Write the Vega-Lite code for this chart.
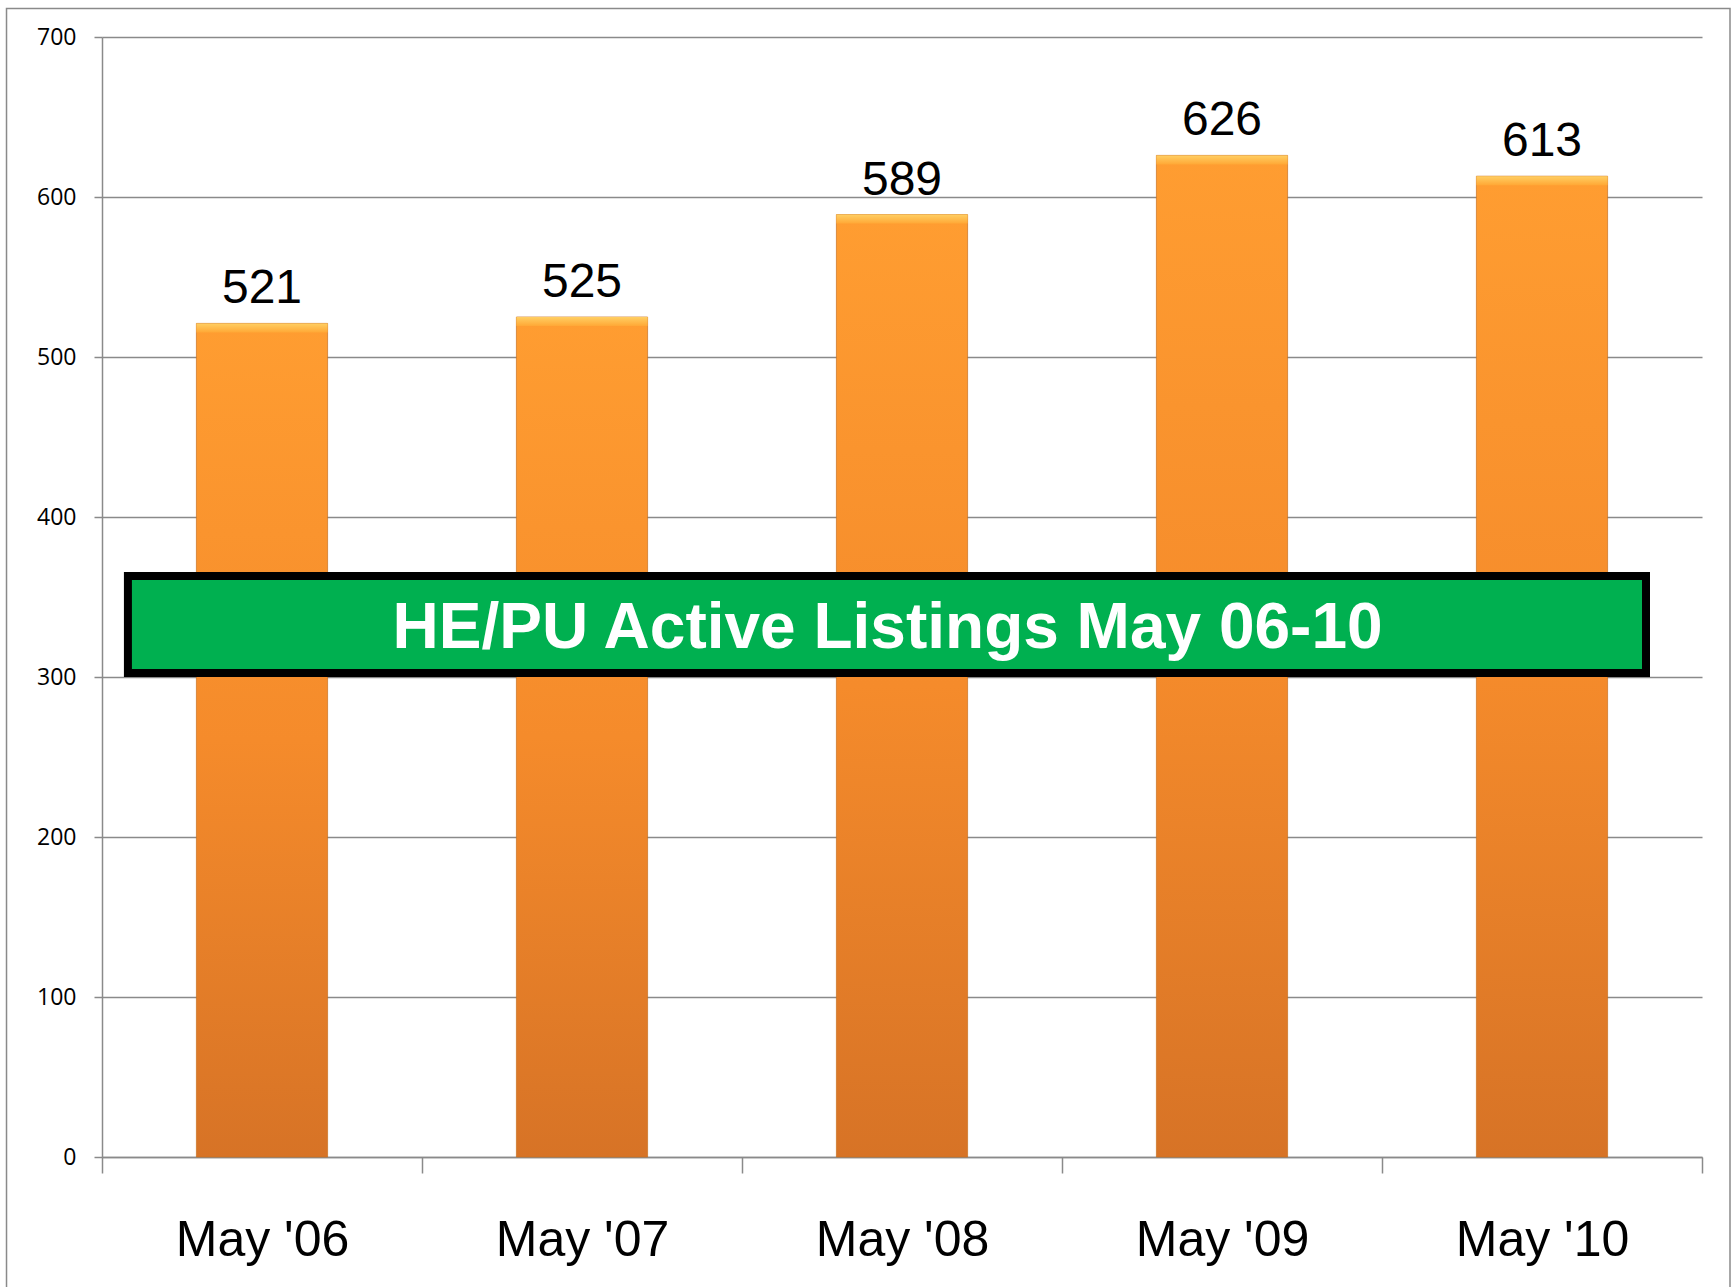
{
  "$schema": "https://vega.github.io/schema/vega-lite/v6.json",
  "width": 1600,
  "height": 1120,
  "autosize": {"type": "none"},
  "padding": {"left": 102, "top": 37, "right": 33, "bottom": 130},
  "background": "white",
  "config": {"view": {"stroke": null}},
  "data": {"values": [
    {"month": "May '06", "listings": 521},
    {"month": "May '07", "listings": 525},
    {"month": "May '08", "listings": 589},
    {"month": "May '09", "listings": 626},
    {"month": "May '10", "listings": 613}
  ]},
  "resolve": {"scale": {"x": "independent"}},
  "layer": [
    {
      "data": {"values": [{"item": "frame"}]},
      "mark": {"type": "rect", "fillOpacity": 0, "stroke": "#8a8a8a", "strokeWidth": 1.5},
      "encoding": {
        "x": {"datum": -0.2984, "type": "quantitative", "scale": {"domain": [0, 5], "nice": false, "zero": false}, "axis": null},
        "x2": {"datum": 5.0875},
        "y": {"datum": 717.8, "type": "quantitative"},
        "y2": {"datum": -100}
      }
    },
    {
      "layer": [
        {
          "mark": {
            "type": "bar",
            "width": {"band": 0.41},
            "stroke": "#c9701f",
            "strokeWidth": 1,
            "strokeOpacity": 0.7,
            "color": {
              "gradient": "linear", "x1": 0, "y1": 0, "x2": 0, "y2": 1,
              "stops": [
                {"offset": 0, "color": "#ff9d31"},
                {"offset": 0.5, "color": "#f58b2b"},
                {"offset": 1, "color": "#d77326"}
              ]
            }
          },
          "encoding": {
            "x": {
              "field": "month", "type": "nominal", "sort": null,
              "scale": {"paddingInner": 0, "paddingOuter": 0},
              "axis": {
                "title": null, "labelAngle": 0, "labelFont": "Liberation Sans", "labelFontSize": 50,
                "labelColor": "black", "tickSize": 16, "tickColor": "#8a8a8a", "tickWidth": 1.5,
                "domainColor": "#8a8a8a", "domainWidth": 1.5, "tickBand": "extent", "labelPadding": 42,
                "grid": false
              }
            },
            "y": {
              "field": "listings", "type": "quantitative",
              "scale": {"domain": [0, 700], "nice": false},
              "axis": {
                "title": null, "values": [0, 100, 200, 300, 400, 500, 600, 700],
                "labelFont": "Open Sans", "labelFontSize": 23, "labelColor": "black",
                "tickSize": 8, "labelPadding": 18, "tickColor": "#8a8a8a", "tickWidth": 1.5,
                "domainColor": "#8a8a8a", "domainWidth": 1.5,
                "grid": true, "gridColor": "#8a8a8a", "gridWidth": 1.5
              }
            }
          }
        },
        {
          "mark": {
            "type": "bar",
            "width": {"band": 0.41},
            "y2Offset": 9,
            "color": {
              "gradient": "linear", "x1": 0, "y1": 0, "x2": 0, "y2": 1,
              "stops": [
                {"offset": 0, "color": "#ffcf63"},
                {"offset": 1, "color": "#ffa836"}
              ]
            }
          },
          "encoding": {
            "x": {"field": "month", "type": "nominal", "sort": null},
            "y": {"field": "listings", "type": "quantitative"},
            "y2": {"field": "listings"}
          }
        },
        {
          "mark": {"type": "text", "font": "Liberation Sans", "fontSize": 48, "color": "black", "dy": -20, "baseline": "alphabetic", "align": "center"},
          "encoding": {
            "x": {"field": "month", "type": "nominal", "sort": null},
            "y": {"field": "listings", "type": "quantitative"},
            "text": {"field": "listings", "type": "quantitative"}
          }
        }
      ]
    },
    {
      "data": {"values": [{"label": "HE/PU Active Listings May 06-10"}]},
      "layer": [
        {
          "mark": {"type": "rect", "fill": "#00b050", "stroke": "black", "strokeWidth": 8},
          "encoding": {
            "x": {"datum": 0.081, "type": "quantitative", "scale": {"domain": [0, 5], "nice": false, "zero": false}, "axis": null},
            "x2": {"datum": 4.825},
            "y": {"datum": 363.1, "type": "quantitative"},
            "y2": {"datum": 302.5}
          }
        },
        {
          "mark": {"type": "text", "font": "Liberation Sans", "fontSize": 64, "fontWeight": "bold", "color": "white", "align": "center", "baseline": "alphabetic"},
          "encoding": {
            "x": {"datum": 2.455, "type": "quantitative"},
            "y": {"datum": 317.9, "type": "quantitative"},
            "text": {"field": "label", "type": "nominal"}
          }
        }
      ]
    }
  ]
}
